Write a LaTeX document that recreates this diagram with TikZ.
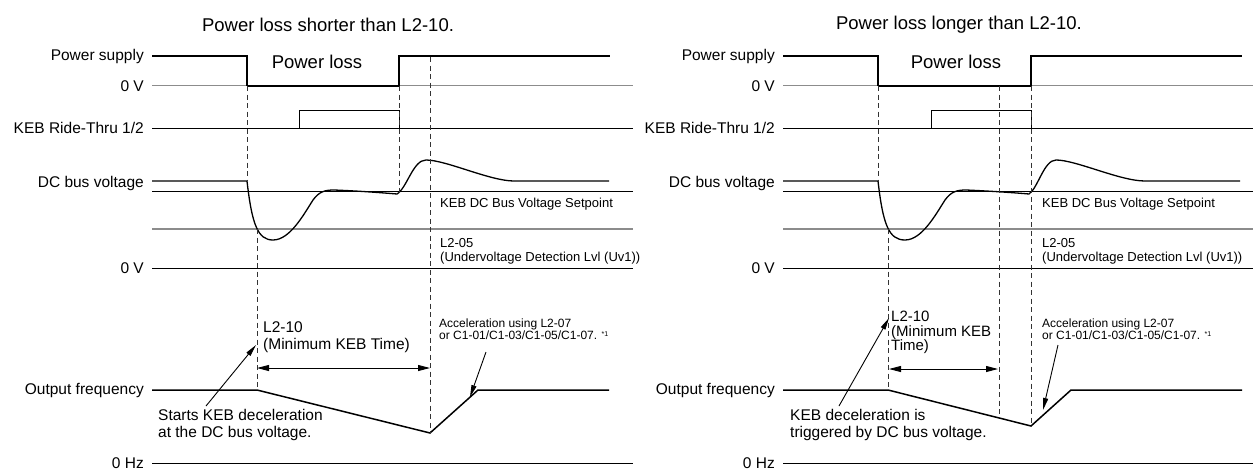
\documentclass[tikz,border=0pt]{standalone}
\usepackage{fontspec}
\setmainfont{Liberation Sans}
\usetikzlibrary{arrows.meta}
\begin{document}
\begin{tikzpicture}[x=1pt,y=-1pt,
  lbl/.style={font=\fontsize{15.5}{17}\selectfont,inner sep=0pt},
  big/.style={font=\fontsize{18.5}{20}\selectfont,inner sep=0pt},
  sml/.style={font=\fontsize{13}{15}\selectfont,inner sep=0pt,anchor=west},
  acc/.style={font=\fontsize{12}{12.5}\selectfont,inner sep=0pt,anchor=west,align=left},
  two/.style={font=\fontsize{15.5}{16.5}\selectfont,inner sep=0pt,anchor=west,align=left},
  minl/.style={font=\fontsize{15}{14.5}\selectfont,inner sep=0pt,anchor=north west,align=left},
  sig/.style={line width=1.5pt},
  crv/.style={line width=1.3pt},
  ref/.style={line width=1pt},
  gref/.style={line width=1.8pt,black!45},
  dsh/.style={line width=0.8pt,dash pattern=on 5pt off 3.5pt,black!80},
  dim/.style={line width=0.9pt,{Triangle[length=12pt,width=6pt]}-{Triangle[length=12pt,width=6pt]}},
  ptr/.style={line width=0.9pt,-{Triangle[length=12pt,width=5pt]}}
]
\useasboundingbox (0,0) rectangle (1253,472);
% ================= LEFT PANEL =================
\node[big] (tL) at (328,25) {Power loss shorter than L2-10.};
\node[lbl,anchor=east] (psL) at (144,56) {Power supply};
\node[lbl,anchor=east] (v0L) at (144,86) {0 V};
\node[lbl,anchor=east] (kebL) at (144,128) {KEB Ride-Thru 1/2};
\node[lbl,anchor=east] (dcL) at (144,183) {DC bus voltage};
\node[lbl,anchor=east] (v0bL) at (144,268) {0 V};
\node[lbl,anchor=east] (ofL) at (144,390) {Output frequency};
\node[lbl,anchor=east] (hzL) at (144,463) {0 Hz};
\node[big] (plL) at (317,62) {Power loss};
% supply
\draw[gref] (152,85.5) -- (633,85.5);
\draw[line width=2pt] (247,85.5) -- (399,85.5);
\draw[sig] (152,56) -- (247,56) -- (247,85.5) (399,85.5) -- (399,56) -- (610,56);
% KEB
\draw[ref] (152,128) -- (633,128);
\draw[ref] (299,128) -- (299,110) -- (399,110) -- (399,128);
% DC levels
\draw[ref] (152,191) -- (633,191);
\draw[gref,line width=1.4pt] (152,229) -- (633,229);
\draw[ref] (152,268) -- (633,268);
\draw[crv] (152,181) -- (247,181)
  .. controls (252,225) and (258,240) .. (273,240)
  .. controls (290,240) and (304,214) .. (313,200)
  .. controls (319,192) and (324,190) .. (334,190)
  .. controls (360,191) and (385,193) .. (397,194)
  .. controls (407,188) and (413,160) .. (426,160)
  .. controls (446,160) and (490,181) .. (514,181) -- (609,181);
\node[sml] (spL) at (440,204) {KEB DC Bus Voltage Setpoint};
\node[sml] (l205L) at (440,243) {L2-05};
\node[sml] (uvL) at (440,258) {(Undervoltage Detection Lvl (Uv1))};
% output frequency
\draw[sig] (152,390) -- (257,390) -- (430,433) -- (478,390) -- (609,390);
\draw[ref] (152,463) -- (633,463);
% dashed
\draw[dsh] (247,86) -- (247,181);
\draw[dsh] (257,229) -- (257,390);
\draw[dsh] (399,86) -- (399,193);
\draw[dsh] (430,57) -- (430,433);
% annotations
\node[minl,font=\fontsize{15.5}{17}\selectfont] (l210L) at (263,321) {L2-10\\(Minimum KEB Time)};
\coordinate (daL) at (257,368);
\coordinate (dbL) at (430,368);
\draw[dim] (daL) -- (dbL);
\node[acc] (accL) at (439,329) {Acceleration using L2-07\\or C1-01/C1-03/C1-05/C1-07. \raisebox{0.5ex}{\fontsize{7}{8}\selectfont *1}};
\coordinate (aaL) at (486,352);
\coordinate (abL) at (470,397);
\draw[ptr] (aaL) -- (abL);
\node[two] (stL) at (158,425) {Starts KEB deceleration\\at the DC bus voltage.};
\coordinate (saL) at (206,406);
\coordinate (sbL) at (256,345);
\draw[ptr] (saL) -- (sbL);
% ================= RIGHT PANEL =================
\node[big] (tR) at (959,25) {Power loss longer than L2-10.};
\node[lbl,anchor=east] (psR) at (775,56) {Power supply};
\node[lbl,anchor=east] (v0R) at (775,86) {0 V};
\node[lbl,anchor=east] (kebR) at (775,128) {KEB Ride-Thru 1/2};
\node[lbl,anchor=east] (dcR) at (775,183) {DC bus voltage};
\node[lbl,anchor=east] (v0bR) at (775,268) {0 V};
\node[lbl,anchor=east] (ofR) at (775,390) {Output frequency};
\node[lbl,anchor=east] (hzR) at (775,463) {0 Hz};
\node[big] (plR) at (956,62) {Power loss};
\draw[gref] (783,85.5) -- (1253,85.5);
\draw[line width=2pt] (878,85.5) -- (1031,85.5);
\draw[sig] (783,56) -- (878,56) -- (878,85.5) (1031,85.5) -- (1031,56) -- (1242,56);
\draw[ref] (783,128) -- (1253,128);
\draw[ref] (931,128) -- (931,110) -- (1031,110) -- (1031,128);
\draw[ref] (783,191) -- (1253,191);
\draw[gref,line width=1.4pt] (783,229) -- (1253,229);
\draw[ref] (783,268) -- (1253,268);
\draw[crv] (783,181) -- (878,181)
  .. controls (883,225) and (889,240) .. (905,240)
  .. controls (922,240) and (936,214) .. (945,200)
  .. controls (951,192) and (956,190) .. (966,190)
  .. controls (990,191) and (1018,193) .. (1029,194)
  .. controls (1038,188) and (1044,160) .. (1056,160)
  .. controls (1076,160) and (1120,181) .. (1145,181) -- (1240,181);
\node[sml] (spR) at (1042,204) {KEB DC Bus Voltage Setpoint};
\node[sml] (l205R) at (1042,243) {L2-05};
\node[sml] (uvR) at (1042,258) {(Undervoltage Detection Lvl (Uv1))};
\draw[sig] (783,390) -- (888,390) -- (1031,426) -- (1071,390) -- (1242,390);
\draw[ref] (783,463) -- (1253,463);
\draw[dsh] (878,86) -- (878,181);
\draw[dsh] (888,229) -- (888,390);
\draw[dsh] (999,86) -- (999,417);
\draw[dsh] (1031,86) -- (1031,426);
\node[minl] (l210R) at (891,311) {L2-10\\(Minimum KEB\\Time)};
\coordinate (daR) at (889,369);
\coordinate (dbR) at (998,369);
\draw[dim] (daR) -- (dbR);
\node[acc] (accR) at (1042,329) {Acceleration using L2-07\\or C1-01/C1-03/C1-05/C1-07. \raisebox{0.5ex}{\fontsize{7}{8}\selectfont *1}};
\coordinate (aaR) at (1058,345);
\coordinate (abR) at (1043,410);
\draw[ptr] (aaR) -- (abR);
\node[two] (stR) at (790,425) {KEB deceleration is\\triggered by DC bus voltage.};
\coordinate (saR) at (839,406);
\coordinate (sbR) at (889,318);
\draw[ptr] (saR) -- (sbR);
\end{tikzpicture}
\end{document}
